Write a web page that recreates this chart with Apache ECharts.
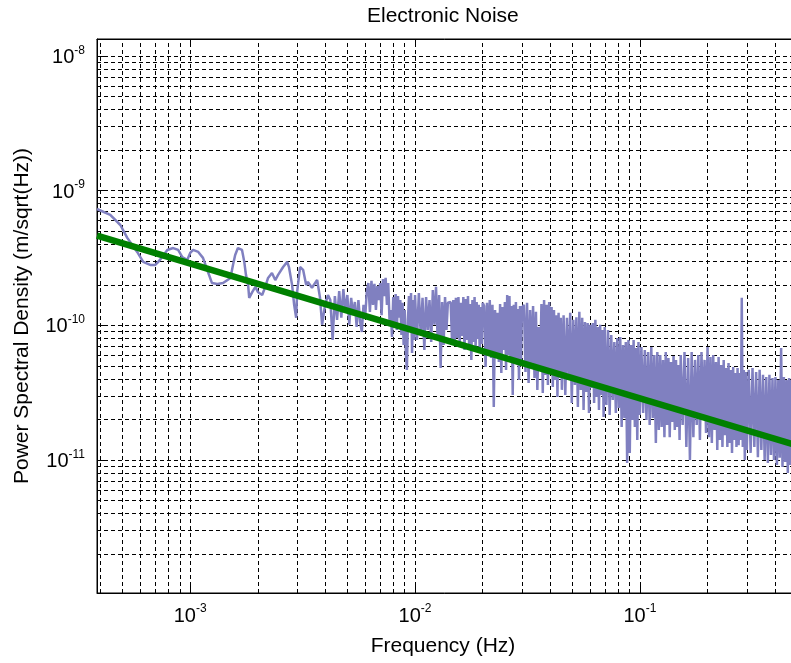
<!DOCTYPE html>
<html>
<head>
<meta charset="utf-8">
<script src="https://cdn.jsdelivr.net/npm/echarts@6/dist/echarts.min.js"></script>
<style>
html,body{margin:0;padding:0;background:#fff;}
#chart{width:791px;height:663px;}
</style>
</head>
<body>
<div id="chart"></div>
<script>
// ---------- data ----------
const titleText = 'Electronic Noise';
const xName = 'Frequency (Hz)';
const yName = 'Power Spectral Density (m/sqrt(Hz))';

// axis limits
const xLimits = [3.85e-4, 0.5];
const yLimits = [1.03e-12, 1.337e-8];

// grid line values (decade and sub-decade lines)
const xGridValues = [4e-4,5e-4,6e-4,7e-4,8e-4,9e-4,
  1e-3,2e-3,3e-3,4e-3,5e-3,6e-3,7e-3,8e-3,9e-3,
  1e-2,2e-2,3e-2,4e-2,5e-2,6e-2,7e-2,8e-2,9e-2,
  1e-1,2e-1,3e-1,4e-1];
const yGridValues = [2e-12,3e-12,4e-12,5e-12,6e-12,7e-12,8e-12,9e-12,
  1e-11,2e-11,3e-11,4e-11,5e-11,6e-11,7e-11,8e-11,9e-11,
  1e-10,2e-10,3e-10,4e-10,5e-10,6e-10,7e-10,8e-10,9e-10,
  1e-9,2e-9,3e-9,4e-9,5e-9,6e-9,7e-9,8e-9,9e-9,1e-8];

// measured noise spectrum, low-frequency part
const freqLow = [3.85e-4,4.41e-4,4.89e-4,5.25e-4,5.81e-4,6.18e-4,6.64e-4,6.99e-4,7.21e-4,7.51e-4,
  7.91e-4,8.40e-4,8.84e-4,9.21e-4,9.70e-4,1.00e-3,1.03e-3,1.086e-3,1.14e-3,1.20e-3,
  1.25e-3,1.32e-3,1.40e-3,1.51e-3,1.55e-3,1.585e-3,1.63e-3,1.70e-3,1.74e-3,1.77e-3,
  1.81e-3,1.83e-3,1.89e-3,1.95e-3,2.00e-3,2.09e-3,2.15e-3,2.22e-3,2.31e-3,2.39e-3,
  2.46e-3,2.59e-3,2.70e-3,2.75e-3,2.84e-3,2.90e-3,2.96e-3,2.99e-3,3.08e-3,3.18e-3,
  3.28e-3,3.34e-3,3.48e-3,3.67e-3,3.78e-3,3.86e-3,3.98e-3,4.10e-3];
const psdLow = [7.31e-10,6.60e-10,5.56e-10,4.46e-10,3.51e-10,2.96e-10,2.81e-10,2.81e-10,2.96e-10,3.22e-10,
  3.63e-10,3.75e-10,3.63e-10,3.22e-10,3.06e-10,3.45e-10,3.63e-10,3.51e-10,3.17e-10,2.49e-10,
  2.06e-10,2.03e-10,2.06e-10,2.25e-10,2.81e-10,3.33e-10,3.75e-10,3.63e-10,2.96e-10,2.37e-10,
  1.99e-10,1.60e-10,1.77e-10,1.93e-10,1.77e-10,1.68e-10,1.90e-10,2.25e-10,2.45e-10,2.17e-10,
  2.37e-10,2.71e-10,2.96e-10,2.71e-10,1.99e-10,1.42e-10,1.14e-10,1.77e-10,2.71e-10,2.58e-10,
  1.99e-10,2.10e-10,1.90e-10,2.17e-10,1.60e-10,1.01e-10,1.42e-10,1.68e-10];

const freqA = [0.0042,0.0043,0.0044,0.0045,0.0046,0.0047,0.0048,0.0049,0.0050,0.0051,
  0.0052,0.0053,0.0054,0.0055,0.0056,0.0057,0.0058,0.0059,0.0060,0.0061,
  0.0062,0.0063,0.0064,0.0065,0.0066,0.0067,0.0068,0.0069,0.0070,0.0071,
  0.0072,0.0073,0.0074,0.0075,0.0076,0.0077,0.0078,0.0079,0.0080,0.0081,
  0.0082,0.0083,0.0084,0.0085,0.0086,0.0087,0.0088,0.0089,0.0090,0.0091,
  0.0092,0.0093,0.0094,0.0095,0.0096,0.0097,0.0098,0.0099,0.0100];
const psdA = [1.54e-10,7.79e-11,1.65e-10,1.10e-10,1.80e-10,1.14e-10,1.86e-10,1.26e-10,1.68e-10,1.01e-10,
  1.60e-10,1.19e-10,1.49e-10,9.73e-11,1.54e-10,1.06e-10,8.93e-11,1.42e-10,1.14e-10,1.77e-10,
  2.06e-10,1.26e-10,2.14e-10,1.42e-10,2.03e-10,1.30e-10,1.96e-10,1.54e-10,2.06e-10,1.19e-10,
  2.21e-10,1.65e-10,2.25e-10,1.42e-10,2.06e-10,1.10e-10,1.30e-10,8.20e-11,1.62e-10,1.01e-10,
  1.71e-10,9.24e-11,1.65e-10,1.14e-10,1.54e-10,8.49e-11,1.47e-10,7.15e-11,1.30e-10,6.35e-11,
  4.67e-11,1.10e-10,1.65e-10,9.24e-11,1.74e-10,6.24e-11,1.54e-10,7.79e-11,1.68e-10];

const freqB = [0.0102,0.0104,0.0106,0.0108,0.0110,0.0112,0.0114,0.0116,0.0118,0.0120,
  0.0122,0.0124,0.0126,0.0128,0.0130,0.0132,0.0134,0.0136,0.0138,0.0140];
const psdB = [7.79e-11,1.74e-10,8.49e-11,1.60e-10,6.57e-11,1.62e-10,9.24e-11,1.54e-10,7.53e-11,1.83e-10,
  1.01e-10,1.93e-10,8.06e-11,1.68e-10,4.83e-11,1.49e-10,7.15e-11,1.62e-10,9.24e-11,1.47e-10];

const freqC1 = [0.0144,0.0146,0.0148,0.0150,0.0152,0.0154,0.0156,0.0158,0.0160,0.0162,
  0.0164,0.0166,0.0168,0.0170,0.0172,0.0174,0.0176,0.0178,0.0180,0.0182,
  0.0184,0.0186,0.0188,0.0190,0.0192,0.0194,0.0196,0.0198,0.0200];
const psdC1 = [1.49e-10,7.79e-11,1.54e-10,7.15e-11,1.60e-10,8.06e-11,1.62e-10,7.53e-11,1.47e-10,8.34e-11,
  1.62e-10,6.57e-11,1.57e-10,7.79e-11,1.65e-10,7.15e-11,1.44e-10,5.54e-11,1.54e-10,7.53e-11,
  1.62e-10,6.80e-11,1.49e-10,7.93e-11,1.42e-10,6.35e-11,1.37e-10,7.28e-11,1.47e-10];

const freqC2 = [0.0203,0.0206,0.0209,0.0212,0.0215,0.0218,0.0221,0.0224,0.0227,0.0230,
  0.0233,0.0236,0.0239,0.0242,0.0245,0.0248,0.0251,0.0254,0.0257,0.0260,
  0.0263,0.0266,0.0269,0.0272,0.0275,0.0278,0.0281,0.0284,0.0287,0.0290,
  0.0293,0.0296,0.0299];
const psdC2 = [1.39e-10,4.91e-11,1.47e-10,6.35e-11,1.54e-10,5.73e-11,1.42e-10,2.48e-11,1.30e-10,6.03e-11,
  1.24e-10,5.35e-11,1.44e-10,4.43e-11,1.37e-10,6.57e-11,1.49e-10,4.67e-11,1.68e-10,6.03e-11,
  1.65e-10,5.35e-11,1.39e-10,3.04e-11,1.42e-10,5.73e-11,1.49e-10,5.08e-11,1.32e-10,3.93e-11,
  1.39e-10,5.35e-11,1.35e-10];

const freqD1 = [0.0305,0.0310,0.0315,0.0320,0.0325,0.0330,0.0335,0.0340,0.0345,0.0350,
  0.0355,0.0360,0.0365,0.0370,0.0375,0.0380,0.0385,0.0390,0.0395,0.0400,
  0.0405,0.0410,0.0415,0.0420,0.0425,0.0430,0.0435,0.0440,0.0445,0.0450];
const psdD1 = [1.42e-10,4.51e-11,1.47e-10,3.74e-11,1.30e-10,5.08e-11,1.39e-10,4.07e-11,1.26e-10,3.32e-11,
  9.73e-11,4.67e-11,1.44e-10,3.15e-11,1.54e-10,4.29e-11,1.42e-10,3.61e-11,1.49e-10,4.51e-11,
  1.37e-10,3.49e-11,1.30e-10,3.93e-11,1.19e-10,2.94e-11,1.24e-10,4.07e-11,1.14e-10,3.32e-11];

const freqD2 = [0.0458,0.0466,0.0474,0.0482,0.0490,0.0498,0.0506,0.0514,0.0522,0.0530,
  0.0538,0.0546,0.0554,0.0562,0.0570,0.0578,0.0586,0.0594,0.0602,0.0610,
  0.0618,0.0626,0.0634,0.0642,0.0650,0.0658,0.0666,0.0674,0.0682,0.0690,0.0698];
const psdD2 = [1.19e-10,3.04e-11,1.14e-10,3.93e-11,1.24e-10,2.65e-11,1.10e-10,3.61e-11,1.15e-10,2.48e-11,
  1.26e-10,3.32e-11,1.14e-10,2.35e-11,1.06e-10,3.20e-11,1.04e-10,2.24e-11,1.01e-10,3.43e-11,
  1.04e-10,2.65e-11,1.10e-10,2.94e-11,9.73e-11,2.35e-11,1.01e-10,3.04e-11,9.24e-11,2.09e-11,9.73e-11];

const freqE1 = [0.0710,0.0722,0.0734,0.0746,0.0758,0.0770,0.0782,0.0794,0.0806,0.0818,
  0.0830,0.0842,0.0854,0.0866,0.0878,0.0890,0.0902,0.0914,0.0926,0.0938,
  0.0950,0.0962,0.0974,0.0986,0.0998];
const psdE1 = [2.56e-11,9.24e-11,2.16e-11,8.49e-11,2.79e-11,7.53e-11,2.24e-11,8.06e-11,2.44e-11,8.20e-11,
  1.76e-11,7.15e-11,2.05e-11,7.53e-11,9.51e-12,7.79e-11,1.13e-11,7.15e-11,1.98e-11,7.79e-11,
  1.76e-11,6.80e-11,1.41e-11,7.53e-11,2.16e-11];

const freqE2 = [0.1016,0.1034,0.1052,0.1070,0.1088,0.1106,0.1124,0.1142,0.1160,0.1178,
  0.1196,0.1214,0.1232,0.1250,0.1268,0.1286,0.1304,0.1322,0.1340,0.1358,
  0.1376,0.1394,0.1412,0.1430,0.1448,0.1466,0.1484,0.1502];
const psdE2 = [6.91e-11,2.24e-11,6.57e-11,1.98e-11,6.35e-11,1.82e-11,6.91e-11,2.05e-11,6.03e-11,1.34e-11,
  6.35e-11,1.67e-11,6.03e-11,1.76e-11,5.54e-11,1.48e-11,6.35e-11,1.82e-11,5.73e-11,1.48e-11,
  5.35e-11,1.92e-11,5.93e-11,1.67e-11,5.54e-11,1.76e-11,5.08e-11,1.41e-11];

const freqF = [0.152,0.155,0.158,0.161,0.164,0.167,0.170,0.173,0.176,0.179,
  0.182,0.185,0.188,0.191,0.194,0.197,0.200,0.203,0.206,0.209,
  0.212,0.215,0.218,0.221,0.224,0.227,0.230,0.233,0.236,0.239,
  0.242,0.245,0.248,0.251,0.254,0.257,0.260,0.263,0.266,0.269,
  0.272,0.275,0.278,0.281,0.284,0.287,0.290,0.293,0.296,0.299];
const psdF = [6.03e-11,1.82e-11,6.35e-11,1.25e-11,5.73e-11,1.00e-11,6.35e-11,1.48e-11,5.54e-11,1.82e-11,
  6.03e-11,1.41e-11,6.35e-11,1.98e-11,5.54e-11,1.59e-11,6.91e-11,1.48e-11,5.83e-11,1.34e-11,
  6.03e-11,1.67e-11,5.35e-11,1.19e-11,5.83e-11,1.41e-11,5.08e-11,1.25e-11,5.54e-11,1.53e-11,
  4.83e-11,1.25e-11,5.26e-11,1.34e-11,4.67e-11,1.13e-11,4.91e-11,1.41e-11,4.43e-11,1.25e-11,
  4.83e-11,1.29e-11,4.43e-11,1.41e-11,1.60e-10,1.25e-11,4.67e-11,1.00e-11,4.51e-11,1.19e-11];

const freqG = [0.305,0.311,0.317,0.323,0.329,0.335,0.341,0.347,0.353,0.359,
  0.365,0.371,0.377,0.383,0.389,0.395,0.401,0.407,0.413,0.419,
  0.425,0.431,0.437,0.443,0.449,0.455,0.461,0.467,0.473,0.479,
  0.485,0.491,0.497];
const psdG = [4.67e-11,1.13e-11,4.83e-11,1.25e-11,4.51e-11,1.05e-11,4.67e-11,1.19e-11,4.29e-11,1.00e-11,
  4.14e-11,9.51e-12,4.29e-11,1.09e-11,4.07e-11,1.00e-11,4.14e-11,9.19e-12,3.93e-11,1.04e-11,
  6.80e-11,8.88e-12,4.14e-11,9.67e-12,3.93e-11,8.01e-12,4.07e-11,9.19e-12,3.93e-11,8.43e-12,
  3.80e-11,8.88e-12,3.61e-11];

// power-law fit line
const fitFreq = [3.85e-4, 0.5];
const fitPsd = [4.63e-10, 1.285e-11];

// ---------- build ----------
function pairs(fs, ps) {
  const n = Math.min(fs.length, ps.length);
  const out = [];
  for (let i = 0; i < n; i++) out.push([fs[i], ps[i]]);
  return out;
}
const noiseData = [].concat(
  pairs(freqLow, psdLow), pairs(freqA, psdA), pairs(freqB, psdB),
  pairs(freqC1, psdC1), pairs(freqC2, psdC2), pairs(freqD1, psdD1), pairs(freqD2, psdD2),
  pairs(freqE1, psdE1), pairs(freqE2, psdE2), pairs(freqF, psdF), pairs(freqG, psdG));
const fitData = pairs(fitFreq, fitPsd);

const gridLines = xGridValues.map(v => ({ coords: [[v, yLimits[0]], [v, yLimits[1]]] }))
  .concat(yGridValues.map(v => ({ coords: [[xLimits[0], v], [xLimits[1], v]] })));

const FONT = 'Liberation Sans, Arial, sans-serif';
function powLabel(v) {
  const e = Math.log10(v);
  const r = Math.round(e);
  if (Math.abs(e - r) > 1e-6) return '';
  return '{b|10}{e|' + r + '}';
}
const richLab = {
  b: { fontSize: 20, fontFamily: FONT, color: '#000', verticalAlign: 'bottom' },
  e: { fontSize: 12, fontFamily: FONT, color: '#000', verticalAlign: 'bottom', padding: [0, 0, 11, 0] }
};

const baseX = {
  type: 'log', logBase: 10, min: xLimits[0], max: xLimits[1],
  axisLine: { show: true, lineStyle: { color: '#000', width: 1 } },
  axisTick: { show: true, inside: true, length: 7, lineStyle: { color: '#000' } },
  splitLine: { show: false }, minorTick: { show: false }
};

const chart = echarts.init(document.getElementById('chart'), null, { renderer: 'canvas' });
chart.setOption({
  animation: false,
  backgroundColor: '#fff',
  title: {
    text: titleText, left: 367, top: 6, padding: 0,
    textStyle: { fontFamily: FONT, fontSize: 21, fontWeight: 'normal', color: '#000' }
  },
  grid: {
    left: 97, top: 39, right: -6, bottom: 70,
    containLabel: false, outerBoundsMode: 'none',
    show: true, borderColor: '#000', borderWidth: 1, backgroundColor: 'transparent'
  },
  xAxis: [
    Object.assign({}, baseX, {
      position: 'bottom',
      name: xName, nameLocation: 'middle', nameGap: 43,
      nameTextStyle: { fontFamily: FONT, fontSize: 21, color: '#000', padding: [0, 8, 0, 0] },
      axisLabel: { formatter: powLabel, rich: richLab, margin: 10, color: '#000' }
    }),
    Object.assign({}, baseX, { position: 'top', axisLabel: { show: false } })
  ],
  yAxis: {
    type: 'log', logBase: 10, min: yLimits[0], max: yLimits[1],
    name: yName, nameLocation: 'middle', nameGap: 64,
    nameTextStyle: { fontFamily: FONT, fontSize: 21, color: '#000' },
    axisLine: { show: true, lineStyle: { color: '#000', width: 1 } },
    axisTick: { show: true, inside: true, length: 7, lineStyle: { color: '#000' } },
    splitLine: { show: false }, minorTick: { show: false },
    axisLabel: { formatter: powLabel, rich: richLab, margin: 12, color: '#000' }
  },
  series: [
    {
      type: 'lines', coordinateSystem: 'cartesian2d', xAxisIndex: 0, yAxisIndex: 0,
      polyline: false, silent: true, z: 1, effect: { show: false },
      lineStyle: { color: '#000', width: 1, type: [4, 3], opacity: 1, curveness: 0 },
      data: gridLines
    },
    {
      type: 'line', data: noiseData, z: 2, showSymbol: false, symbol: 'none',
      lineStyle: { color: '#8080c0', width: 2.5 }, itemStyle: { color: '#8080c0' },
      clip: true
    },
    {
      type: 'line', data: fitData, z: 3, showSymbol: false, symbol: 'none',
      lineStyle: { color: '#008000', width: 6.5 }, itemStyle: { color: '#008000' }, clip: true
    }
  ]
});
</script>
</body>
</html>
